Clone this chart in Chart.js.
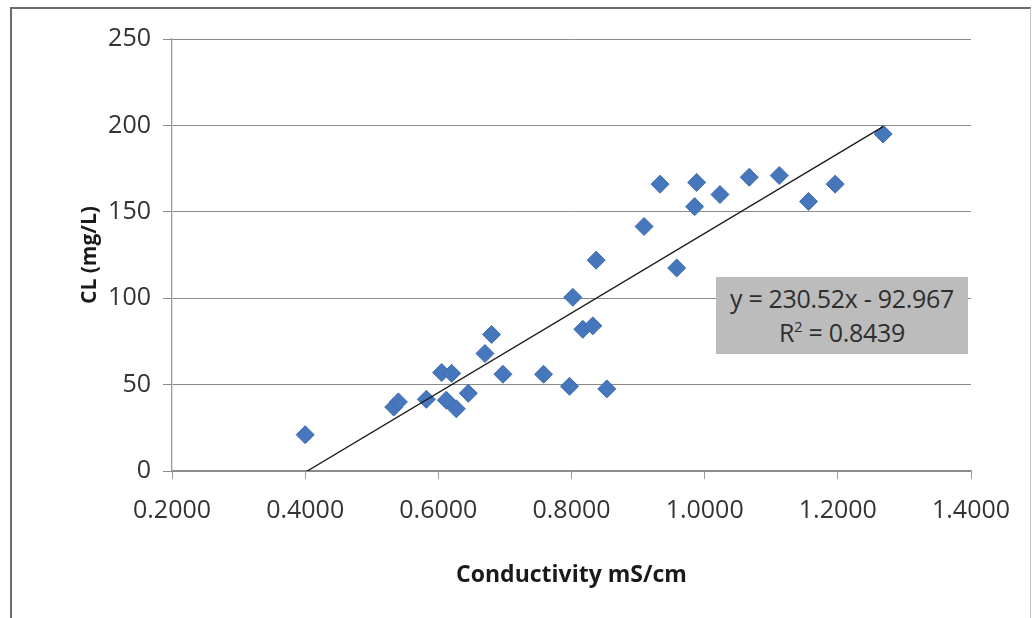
<!DOCTYPE html>
<html>
<head>
<meta charset="utf-8">
<script src="https://cdn.jsdelivr.net/npm/chart.js@4/dist/chart.umd.min.js"></script>
<style>
  html, body { margin: 0; padding: 0; background: #ffffff; }
  #wrap { position: relative; width: 1032px; height: 618px; overflow: hidden; }
  #c { position: absolute; left: 0; top: 0; }
  #frame { position: absolute; left: 10px; top: 7px; width: 1018px; height: 640px;
           border-left: 2px solid #6b6b6b; border-top: 2px solid #6b6b6b; border-right: 1px solid #c8c8c8;
           pointer-events: none; }
  #eq { position: absolute; left: 716px; top: 277px; width: 252px; height: 77px;
        background: #bcbcbc; color: #2e2e2e; font-family: "Open Sans", sans-serif; font-size: 25px;
        text-align: center; line-height: 34px; padding-top: 4px; box-sizing: border-box; letter-spacing: -0.3px; }
</style>
</head>
<body>
<div id="wrap">
  <canvas id="c" width="1032" height="618"></canvas>
  <div id="frame"></div>
  <div id="eq">y = 230.52x - 92.967<br>R<sup style="font-size:15px;vertical-align:10px;line-height:0">2</sup> = 0.8439</div>
</div>
<script>
// Measured data (Conductivity mS/cm vs CL mg/L)
const conductivity = [0.400, 0.533, 0.540, 0.582, 0.605, 0.620, 0.612, 0.627, 0.645, 0.670,
                      0.680, 0.697, 0.758, 0.797, 0.802, 0.817, 0.832, 0.837, 0.853, 0.909,
                      0.933, 0.958, 0.985, 0.988, 1.023, 1.067, 1.112, 1.156, 1.196, 1.268];
const chloride     = [21, 37, 40, 41.5, 57, 56.5, 41, 36, 45, 68,
                      79, 56, 56, 49, 100.5, 82, 84, 122, 47.5, 141.5,
                      166, 117.5, 153, 167, 160, 170, 171, 156, 166, 195];
// Linear trendline end points (y = 230.52x - 92.967 over the data range)
const trendX = [0.400, 1.268];
const trendY = [-0.76, 199.3];
// Axis ticks
const xTicks = [0.2, 0.4, 0.6, 0.8, 1.0, 1.2, 1.4];
const yTicks = [0, 50, 100, 150, 200, 250];

const points = conductivity.map((x, i) => ({ x: x, y: chloride[i] }));
const trend = trendX.map((x, i) => ({ x: x, y: trendY[i] }));

const tickFont = { family: "'Open Sans', sans-serif", size: 25 };

new Chart(document.getElementById('c'), {
  type: 'scatter',
  data: {
    datasets: [
      {
        label: 'Trend',
        type: 'line',
        data: trend,
        borderColor: '#1a1a1a',
        borderWidth: 1.3,
        pointRadius: 0,
        fill: false,
        order: 0
      },
      {
        label: 'CL',
        data: points,
        pointStyle: 'rectRot',
        pointRadius: 9,
        pointHoverRadius: 9,
        backgroundColor: '#4677BC',
        borderColor: '#3e6cae',
        borderWidth: 1,
        order: 1
      }
    ]
  },
  options: {
    responsive: false,
    animation: false,
    layout: { padding: { top: 39, right: 61, bottom: 0, left: 0 } },
    plugins: { legend: { display: false }, tooltip: { enabled: false } },
    scales: {
      x: {
        type: 'linear',
        min: xTicks[0],
        max: xTicks[xTicks.length - 1],
        afterBuildTicks: (s) => { s.ticks = xTicks.map(v => ({ value: v })); },
        afterFit: (s) => { s.height = 147; },
        ticks: {
          font: tickFont,
          color: '#333333',
          padding: 17,
          maxRotation: 0,
          callback: (v) => Number(v).toFixed(4)
        },
        grid: { drawOnChartArea: false, drawTicks: true, tickLength: 8, color: '#9a9a9a' },
        border: { color: '#8f8f8f', width: 1.3 },
        title: {
          display: true,
          text: 'Conductivity mS/cm',
          font: { family: "'Open Sans', sans-serif", size: 23, weight: 'bold' },
          color: '#1a1a1a',
          padding: { top: 0, bottom: 29 }
        }
      },
      y: {
        type: 'linear',
        min: yTicks[0],
        max: yTicks[yTicks.length - 1],
        afterBuildTicks: (s) => { s.ticks = yTicks.map(v => ({ value: v })); },
        afterFit: (s) => { s.width = 172; },
        ticks: {
          font: tickFont,
          color: '#333333',
          padding: 12
        },
        grid: { drawOnChartArea: true, drawTicks: true, tickLength: 9, color: '#8a8a8a', lineWidth: 1 },
        border: { color: '#9a9a9a', width: 1.3 },
        title: {
          display: true,
          text: 'CL (mg/L)',
          font: { family: "'Open Sans', sans-serif", size: 21, weight: 'bold' },
          color: '#1a1a1a',
          padding: { top: 77, bottom: 0 }
        }
      }
    }
  }
});
</script>
</body>
</html>
